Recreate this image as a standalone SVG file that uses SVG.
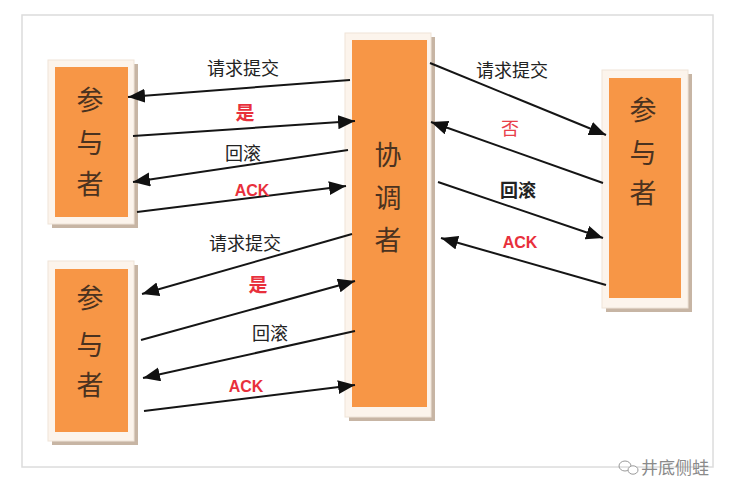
<svg xmlns="http://www.w3.org/2000/svg" width="736" height="498" viewBox="0 0 736 498">
<defs>
<marker id="ah" markerUnits="userSpaceOnUse" markerWidth="19" markerHeight="15" refX="17" refY="7" orient="auto">
<path d="M0,0 L17,7 L0,14 z" fill="#111"/>
</marker>
<style>
.shadow{fill:#c7b5a4}
.outer{fill:#fcf4ec;stroke:#efe4d8;stroke-width:1}
.inner{fill:#f79646}
.nt{font-family:"Noto Sans CJK SC","Noto Sans",sans-serif;font-size:27px;fill:#4a3220;text-anchor:middle}
.lb{font-family:"Noto Sans CJK SC","Liberation Sans",sans-serif;font-size:18px;fill:#222;text-anchor:middle}
.red{fill:#e8303c;font-weight:bold;font-size:19px}
.ack{font-family:"Liberation Sans","Noto Sans CJK SC",sans-serif;font-size:16px;font-weight:bold;fill:#e8303c;text-anchor:middle}
.ln{stroke:#151515;stroke-width:2;fill:none;marker-end:url(#ah)}
</style>
</defs>
<rect x="0" y="0" width="736" height="498" fill="#fff"/>
<rect x="22" y="15" width="691" height="452" fill="#fff" stroke="#dcdcdc" stroke-width="1.5"/>

<g id="p1">
<rect class="shadow" x="52" y="64" width="86" height="164"/>
<rect class="outer" x="48" y="60" width="86" height="164"/>
<rect class="inner" x="55" y="67" width="73" height="150"/>
<text class="nt" x="90" y="110">参</text>
<text class="nt" x="90" y="153">与</text>
<text class="nt" x="90" y="194">者</text>
</g>

<g id="p2">
<rect class="shadow" x="52" y="265" width="86" height="180"/>
<rect class="outer" x="48" y="261" width="86" height="180"/>
<rect class="inner" x="55" y="269" width="73" height="163"/>
<text class="nt" x="90" y="308">参</text>
<text class="nt" x="90" y="355">与</text>
<text class="nt" x="90" y="395">者</text>
</g>

<g id="coord">
<rect class="shadow" x="349" y="37" width="86" height="384"/>
<rect class="outer" x="345" y="33" width="86" height="384"/>
<rect class="inner" x="352" y="40" width="75" height="367"/>
<text class="nt" x="388" y="165">协</text>
<text class="nt" x="388" y="208">调</text>
<text class="nt" x="388" y="250">者</text>
</g>

<g id="p3">
<rect class="shadow" x="606" y="74" width="86" height="238"/>
<rect class="outer" x="602" y="70" width="86" height="238"/>
<rect class="inner" x="609" y="78" width="72" height="220"/>
<text class="nt" x="643" y="120">参</text>
<text class="nt" x="643" y="163">与</text>
<text class="nt" x="643" y="203">者</text>
</g>

<g id="connectors">
<line class="ln" x1="350" y1="80" x2="128" y2="97"/>
<line class="ln" x1="133" y1="136" x2="355" y2="121"/>
<line class="ln" x1="348" y1="150" x2="133" y2="182"/>
<line class="ln" x1="137" y1="212" x2="346" y2="186"/>
<line class="ln" x1="352" y1="234" x2="142" y2="294"/>
<line class="ln" x1="141" y1="340" x2="355" y2="281"/>
<line class="ln" x1="355" y1="331" x2="143" y2="378"/>
<line class="ln" x1="144" y1="411" x2="355" y2="385"/>
<line class="ln" x1="430" y1="63" x2="606" y2="135"/>
<line class="ln" x1="603" y1="183" x2="431" y2="122"/>
<line class="ln" x1="438" y1="182" x2="603" y2="238"/>
<line class="ln" x1="606" y1="285" x2="441" y2="238"/>
</g>

<g id="labels">
<text class="lb" x="243" y="75">请求提交</text>
<text class="lb red" x="245" y="120">是</text>
<text class="lb" x="243" y="160">回滚</text>
<text class="ack" x="252" y="196">ACK</text>
<text class="lb" x="245" y="250">请求提交</text>
<text class="lb red" x="258" y="292">是</text>
<text class="lb" x="270" y="340">回滚</text>
<text class="ack" x="246" y="392">ACK</text>
<text class="lb" x="512" y="77">请求提交</text>
<text class="lb" x="510" y="135" style="fill:#e8404a">否</text>
<text class="lb" x="518" y="197" style="font-weight:bold">回滚</text>
<text class="ack" x="520" y="248">ACK</text>
</g>

<g id="watermark" fill="none" stroke="#9a9a9a" stroke-width="1">
<ellipse cx="625" cy="466" rx="6" ry="5"/>
<ellipse cx="633" cy="470" rx="5" ry="4.2" fill="#fff"/>
<text x="641" y="474" stroke="none" fill="#8a8a8a" style="font-family:'Noto Sans CJK SC',sans-serif;font-size:17px">井底侧蛙</text>
</g>
</svg>
